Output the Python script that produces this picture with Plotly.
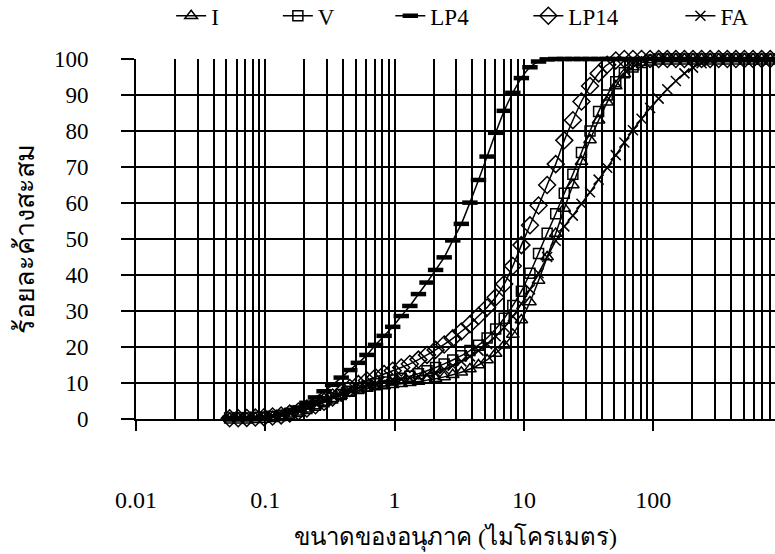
import plotly.graph_objects as go

# particle size classes (micrometres)
size_um = [0.0530, 0.0617, 0.0719, 0.0838, 0.0977, 0.1138, 0.1326, 0.1545, 0.1800, 0.2097,
           0.2443, 0.2847, 0.3317, 0.3865, 0.4503, 0.5246, 0.6112, 0.7121, 0.8297, 0.9667,
           1.126, 1.312, 1.529, 1.781, 2.075, 2.418, 2.817, 3.282, 3.824, 4.455,
           5.191, 6.048, 7.046, 8.210, 9.565, 11.14, 12.98, 15.13, 17.62, 20.53,
           23.92, 27.87, 32.47, 37.83, 44.08, 51.36, 59.84, 69.72, 81.23, 94.64,
           110.3, 128.5, 149.7, 174.4, 203.2, 236.7, 275.8, 321.3, 374.4, 436.2,
           508.2, 592.1, 689.9, 803.8]

I_vals = [0.2, 0.2, 0.2, 0.3, 0.4, 0.6, 0.9, 1.3, 1.9, 2.7,
          3.6, 4.6, 5.6, 6.5, 7.3, 8.0, 8.5, 8.9, 9.2, 9.5,
          9.8, 10.1, 10.4, 10.8, 11.2, 11.7, 12.3, 13.0, 13.9, 15.0,
          16.4, 18.2, 20.5, 23.5, 27.5, 32.5, 38.5, 45.0, 51.5, 58.5,
          65.0, 71.5, 77.5, 83.0, 88.0, 92.5, 95.8, 97.8, 99.0, 99.7,
          100, 100, 100, 100, 100, 100, 100, 100, 100, 100,
          100, 100, 100, 100]

V_vals = [0.3, 0.3, 0.3, 0.4, 0.5, 0.7, 1.0, 1.5, 2.1, 2.9,
          3.8, 4.8, 5.8, 6.8, 7.7, 8.5, 9.2, 9.8, 10.3, 10.8,
          11.3, 11.9, 12.6, 13.4, 14.3, 15.3, 16.4, 17.6, 19.0, 20.5,
          22.5, 25.0, 28.0, 31.5, 35.5, 40.5, 46.0, 51.6, 57.0, 62.7,
          68.0, 74.0, 80.0, 85.4, 90.0, 93.7, 96.2, 97.8, 99.0, 99.7,
          100, 100, 100, 100, 100, 100, 100, 100, 100, 100,
          100, 100, 100, 100]

LP4_vals = [0.3, 0.3, 0.3, 0.3, 0.5, 0.8, 1.3, 2.1, 3.2, 4.5,
            6.0, 7.7, 9.5, 11.5, 13.6, 15.6, 17.8, 20.6, 23.1, 25.6,
            28.6, 31.4, 34.7, 37.9, 41.4, 44.9, 49.6, 54.2, 60.1, 66.4,
            72.9, 79.5, 85.6, 90.6, 94.7, 97.7, 99.3, 99.9, 100, 100,
            100, 100, 100, 100, 100, 100, 100, 100, 100, 100,
            100, 100, 100, 100, 100, 100, 100, 100, 100, 100,
            100, 100, 100, 100]

LP14_vals = [0.2, 0.2, 0.3, 0.4, 0.5, 0.7, 1.0, 1.5, 2.1, 2.9,
             3.8, 4.8, 6.0, 7.3, 8.6, 9.7, 10.7, 11.6, 12.5, 13.4,
             14.3, 15.3, 16.5, 17.8, 19.2, 20.7, 22.4, 24.3, 26.3, 28.6,
             31.0, 33.8, 37.5, 42.5, 48.3, 53.8, 59.3, 65.0, 70.8, 77.4,
             83.0, 88.2, 92.5, 96.0, 98.4, 99.6, 100, 100, 100, 100,
             100, 100, 100, 100, 100, 100, 100, 100, 100, 100,
             100, 100, 100, 100]

FA_vals = [0.5, 0.5, 0.5, 0.6, 0.7, 0.9, 1.2, 1.7, 2.4, 3.3,
           4.3, 5.3, 6.3, 7.2, 8.0, 8.7, 9.3, 9.8, 10.2, 10.6,
           11.0, 11.4, 11.9, 12.4, 13.0, 13.8, 14.8, 16.0, 17.4, 19.0,
           20.8, 23.0, 25.5, 28.5, 32.0, 36.0, 40.5, 45.0, 49.5, 53.5,
           56.5, 59.8, 63.0, 66.5, 69.8, 73.3, 76.8, 80.2, 83.4, 86.4,
           89.0, 91.6, 93.9, 96.0, 97.6, 98.8, 99.5, 99.9, 100, 100,
           100, 100, 100, 100]

series_names = ["I", "V", "LP4", "LP14", "FA"]
series_vals = [I_vals, V_vals, LP4_vals, LP14_vals, FA_vals]
legend_x = [0.055, 0.222, 0.398, 0.614, 0.852]

x_tick_vals = [0.01, 0.1, 1, 10, 100]
x_tick_text = ["0.01", "0.1", "1", "10", "100"]

x_title = "ขนาดของอนุภาค (ไมโครเมตร)"
y_title = "ร้อยละค้างสะสม"

FONT = "'Times New Roman', 'Liberation Serif', 'DejaVu Serif', serif"

markers = {
    "I": dict(symbol="triangle-up-open", size=11, color="black", line=dict(color="black", width=1.5)),
    "V": dict(symbol="square-open", size=10, color="black", line=dict(color="black", width=1.5)),
    "LP4": dict(symbol="line-ew", size=11, color="black", line=dict(color="black", width=4.5)),
    "LP14": dict(symbol="diamond-open", size=13, color="black", line=dict(color="black", width=1.5)),
    "FA": dict(symbol="x-thin", size=10, color="black", line=dict(color="black", width=1.5)),
}

fig = go.Figure()
for i, (name, vals) in enumerate(zip(series_names, series_vals)):
    lg = "legend" if i == 0 else f"legend{i+1}"
    fig.add_trace(go.Scatter(
        x=size_um, y=vals, name=name, mode="lines+markers",
        line=dict(color="black", width=1.5, shape="spline", smoothing=0.6),
        marker=markers[name], cliponaxis=False, legend=lg, showlegend=True,
    ))

layout_legends = {}
for i, lx in enumerate(legend_x):
    key = "legend" if i == 0 else f"legend{i+1}"
    layout_legends[key] = dict(
        x=lx, y=1.12, xanchor="left", yanchor="middle",
        orientation="h", bgcolor="rgba(0,0,0,0)", visible=True,
        font=dict(family=FONT, size=23, color="black"),
    )

fig.update_layout(
    width=775, height=554,
    margin=dict(l=136, r=0, t=59, b=135, autoexpand=False),
    paper_bgcolor="white", plot_bgcolor="white",
    font=dict(family=FONT, size=23, color="black"),
    showlegend=True,
    **layout_legends,
)

fig.update_xaxes(
    type="log", range=[-2, 2.942],
    tickvals=x_tick_vals, ticktext=x_tick_text,
    ticks="outside", ticklen=10, tickwidth=1.5, tickcolor="black",
    ticklabelstandoff=48,
    showline=True, linewidth=2, linecolor="black",
    showgrid=True, gridcolor="black", gridwidth=1.6,
    minor=dict(dtick="D1", showgrid=True, gridcolor="black", gridwidth=1.6, ticks=""),
    zeroline=False, automargin=False,
    tickfont=dict(family=FONT, size=24, color="black"),
)
fig.update_yaxes(
    range=[0, 100], dtick=10,
    ticks="outside", ticklen=13, tickwidth=1.5, tickcolor="black",
    ticklabelstandoff=28,
    showline=True, linewidth=2, linecolor="black",
    showgrid=True, gridcolor="black", gridwidth=1.6,
    zeroline=False, automargin=False,
    tickfont=dict(family=FONT, size=23, color="black"),
)

fig.add_annotation(text=x_title, xref="paper", yref="paper", x=0.5, y=-0.328,
                   showarrow=False, xanchor="center", yanchor="middle",
                   font=dict(family=FONT, size=24, color="black"))
fig.add_annotation(text=y_title, xref="paper", yref="paper", x=-0.174, y=0.5,
                   showarrow=False, xanchor="center", yanchor="middle", textangle=-90,
                   font=dict(family=FONT, size=27, color="black"))

fig.write_html("out.html")
